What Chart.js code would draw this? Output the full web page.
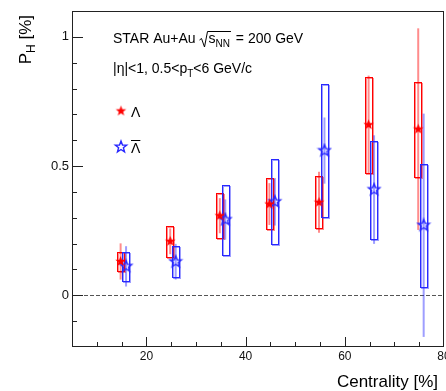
<!DOCTYPE html>
<html>
<head>
<meta charset="utf-8">
<script src="https://cdn.jsdelivr.net/npm/chart.js@4"></script>
<style>
  html, body { margin: 0; padding: 0; background: #fff; }
  #c { display: block; }
</style>
</head>
<body>
<canvas id="c" width="446" height="391"></canvas>
<script>
// centrality bins (%)
const centrality = [15, 25, 35, 45, 55, 65, 75];

// Lambda polarization P_H [%], stat. and sys. half-errors
const lamP    = [0.131, 0.209, 0.308, 0.353, 0.360, 0.660, 0.643];
const lamStat = [0.070, 0.050, 0.068, 0.081, 0.118, 0.190, 0.390];
const lamSys  = [0.037, 0.060, 0.087, 0.099, 0.100, 0.185, 0.183];

// anti-Lambda
const alamP    = [0.112, 0.130, 0.293, 0.362, 0.560, 0.409, 0.271];
const alamStat = [0.078, 0.069, 0.078, 0.092, 0.128, 0.210, 0.432];
const alamSys  = [0.056, 0.060, 0.135, 0.164, 0.257, 0.189, 0.237];

const xTicks = [20, 40, 60, 80];
const yTicks = [0, 0.5, 1];

const RED = 'rgb(255,0,0)';
const BLUE = 'rgb(40,40,255)';
const font = '"Liberation Sans", Arial, Helvetica, sans-serif';

function starImage(r, fill, stroke) {
    const c = document.createElement('canvas');
    const s = Math.ceil(2 * r + 4);
    c.width = s; c.height = s;
    const g = c.getContext('2d');
    g.beginPath();
    for (let i = 0; i < 10; i++) {
        const rr = i % 2 === 0 ? r : r * 0.42;
        const a = -Math.PI / 2 + i * Math.PI / 5;
        const px = s / 2 + rr * Math.cos(a), py = s / 2 + rr * Math.sin(a);
        i === 0 ? g.moveTo(px, py) : g.lineTo(px, py);
    }
    g.closePath();
    if (fill) { g.fillStyle = fill; g.fill(); }
    if (stroke) { g.strokeStyle = stroke; g.lineWidth = 1.4; g.stroke(); }
    return c;
}

const redStar = starImage(5.5, RED, null);
const blueStar = starImage(6, null, BLUE);

const lamOff = -0.2, alamOff = 0.9, boxHalf = 0.75;

function drawErrors(ctx, xs, ys, vals, stat, sys, off, col, faded) {
    vals.forEach((v, i) => {
        const x = xs.getPixelForValue(centrality[i] + off);
        const x0 = xs.getPixelForValue(centrality[i] + off - boxHalf);
        const x1 = xs.getPixelForValue(centrality[i] + off + boxHalf);
        const yt = ys.getPixelForValue(v + sys[i]);
        const yb = ys.getPixelForValue(v - sys[i]);
        // stat error
        ctx.strokeStyle = faded;
        ctx.lineWidth = 2;
        ctx.beginPath();
        ctx.moveTo(x, ys.getPixelForValue(v + stat[i]));
        ctx.lineTo(x, ys.getPixelForValue(v - stat[i]));
        ctx.stroke();
        // sys box (with soft shadow)
        ctx.lineWidth = 1;
        ctx.strokeStyle = faded;
        ctx.strokeRect(Math.round(x0) + 1.5, Math.round(yt) + 1.5, Math.round(x1 - x0), Math.round(yb - yt));
        ctx.strokeStyle = col;
        ctx.strokeRect(Math.round(x0) + 0.5, Math.round(yt) + 0.5, Math.round(x1 - x0), Math.round(yb - yt));
    });
}

const decor = {
    id: 'decor',
    beforeDatasetsDraw(chart) {
        const { ctx, chartArea: a, scales: { x, y } } = chart;
        ctx.save();
        // zero line
        ctx.strokeStyle = '#555';
        ctx.lineWidth = 1;
        ctx.setLineDash([4, 2]);
        ctx.beginPath();
        const y0 = Math.round(y.getPixelForValue(0)) + 0.5;
        ctx.moveTo(a.left, y0);
        ctx.lineTo(a.right, y0);
        ctx.stroke();
        ctx.setLineDash([]);
        drawErrors(ctx, x, y, lamP, lamStat, lamSys, lamOff, RED, 'rgba(255,0,0,0.45)');
        drawErrors(ctx, x, y, alamP, alamStat, alamSys, alamOff, BLUE, 'rgba(40,40,255,0.45)');
        ctx.restore();
    },
    afterDraw(chart) {
        const { ctx, chartArea: a, scales: { x, y } } = chart;
        ctx.save();
        // frame
        ctx.strokeStyle = '#222';
        ctx.lineWidth = 1;
        ctx.strokeRect(a.left + 0.5, a.top + 0.5, a.right - a.left - 1, a.bottom - a.top - 1);
        // ticks
        ctx.beginPath();
        for (let v = 10; v <= 75; v += 5) {
            const px = Math.round(x.getPixelForValue(v)) + 0.5;
            const len = v % 20 === 0 ? 10 : 5;
            ctx.moveTo(px, a.bottom);
            ctx.lineTo(px, a.bottom - len);
        }
        for (let k = -1; k <= 10; k++) {
            const v = k / 10;
            const py = Math.round(y.getPixelForValue(v)) + 0.5;
            const len = k % 5 === 0 ? 11 : 5;
            ctx.moveTo(a.left, py);
            ctx.lineTo(a.left + len, py);
        }
        ctx.stroke();

        // x tick labels
        ctx.fillStyle = '#111';
        ctx.font = '12px ' + font;
        ctx.textAlign = 'center';
        ctx.textBaseline = 'top';
        xTicks.forEach(v => ctx.fillText(String(v), x.getPixelForValue(v), a.bottom + 4));

        ctx.fillStyle = '#000';
        ctx.textBaseline = 'alphabetic';
        ctx.textAlign = 'left';
        // header line 1
        ctx.font = '14px ' + font;
        let tx = 113, by = 43;
        const t1 = 'STAR Au+Au ';
        ctx.fillText(t1, tx, by);
        tx += ctx.measureText(t1).width;
        const sW = ctx.measureText('s').width;
        ctx.font = '10px ' + font;
        const nnW = ctx.measureText('NN').width;
        const rEnd = tx + 9 + sW + nnW + 1;
        ctx.strokeStyle = '#000';
        ctx.lineWidth = 1;
        ctx.beginPath();
        ctx.moveTo(tx, 40);
        ctx.lineTo(tx + 2, 38.5);
        ctx.lineTo(tx + 5, 47);
        ctx.lineTo(tx + 8, 31.5);
        ctx.lineTo(rEnd, 31.5);
        ctx.stroke();
        ctx.font = '14px ' + font;
        ctx.fillText('s', tx + 9, by);
        ctx.font = '10px ' + font;
        ctx.fillText('NN', tx + 9 + sW, by + 4);
        ctx.font = '14px ' + font;
        ctx.fillText(' = 200 GeV', rEnd + 1, by);

        // header line 2
        tx = 113; by = 73;
        const t2 = '|\u03b7|<1, 0.5<p';
        ctx.fillText(t2, tx, by);
        tx += ctx.measureText(t2).width;
        ctx.font = '10px ' + font;
        ctx.fillText('T', tx, by + 4);
        tx += ctx.measureText('T').width;
        ctx.font = '14px ' + font;
        ctx.fillText('<6 GeV/c', tx, by);

        // legend
        ctx.drawImage(redStar, 121 - redStar.width / 2, 111 - redStar.height / 2);
        ctx.drawImage(blueStar, 121 - blueStar.width / 2, 147 - blueStar.height / 2);
        ctx.fillText('\u039b', 131, 117);
        ctx.fillText('\u039b', 131, 153);
        const lw = ctx.measureText('\u039b').width;
        ctx.beginPath();
        ctx.moveTo(131, 140.5);
        ctx.lineTo(131 + lw, 140.5);
        ctx.stroke();

        // axis titles
        ctx.font = '17px ' + font;
        ctx.textAlign = 'right';
        ctx.fillText('Centrality [%]', 438, 387);

        ctx.save();
        ctx.translate(31, 15);
        ctx.rotate(-Math.PI / 2);
        ctx.textAlign = 'left';
        const pW = ctx.measureText('P').width;
        const rest = ' [%]';
        ctx.font = '12px ' + font;
        const hW = ctx.measureText('H').width;
        ctx.font = '17px ' + font;
        const total = pW + hW + ctx.measureText(rest).width;
        let sx = -total;
        ctx.fillText('P', sx, 0);
        sx += pW;
        ctx.font = '12px ' + font;
        ctx.fillText('H', sx, 4);
        sx += hW;
        ctx.font = '17px ' + font;
        ctx.fillText(rest, sx, 0);
        ctx.restore();

        ctx.restore();
    }
};

new Chart(document.getElementById('c'), {
    type: 'scatter',
    data: {
        datasets: [
            {
                label: '\u039b',
                data: centrality.map((c, i) => ({ x: c + lamOff, y: lamP[i] })),
                pointStyle: redStar
            },
            {
                label: 'anti-\u039b',
                data: centrality.map((c, i) => ({ x: c + alamOff, y: alamP[i] })),
                pointStyle: blueStar
            }
        ]
    },
    options: {
        responsive: false,
        animation: false,
        layout: { autoPadding: false, padding: { top: 11, right: 2, left: 0, bottom: 0 } },
        plugins: { legend: { display: false }, tooltip: { enabled: false } },
        scales: {
            x: {
                type: 'linear', min: 5, max: 80,
                afterBuildTicks: s => { s.ticks = xTicks.map(v => ({ value: v })); },
                afterFit: s => { s.height = 44; },
                grid: { display: false, drawTicks: false },
                border: { display: false },
                ticks: { display: false }
            },
            y: {
                type: 'linear', min: -0.2, max: 1.1,
                afterBuildTicks: s => { s.ticks = yTicks.map(v => ({ value: v })); },
                afterFit: s => { s.width = 72; },
                grid: { display: false, drawTicks: false },
                border: { display: false },
                ticks: { padding: 3, color: '#111', font: { family: font, size: 13 },
                         callback: v => String(v) }
            }
        }
    },
    plugins: [decor]
});
</script>
</body>
</html>
